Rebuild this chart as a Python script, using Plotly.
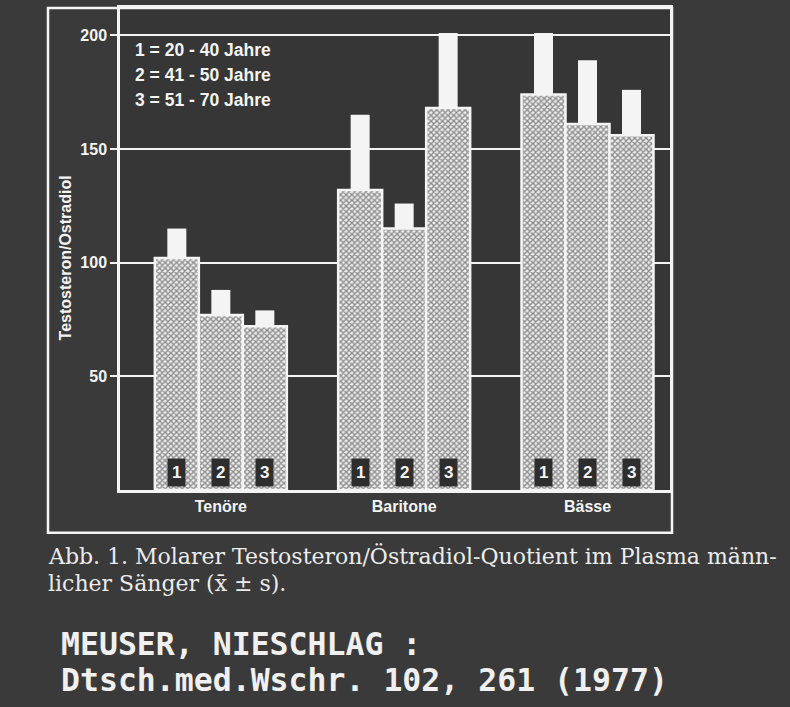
import plotly.graph_objects as go

# ---- data ----
categories = ["Tenöre", "Baritone", "Bässe"]
age_groups = ["1", "2", "3"]
age_legend = ["1 = 20 - 40 Jahre", "2 = 41 - 50 Jahre", "3 = 51 - 70 Jahre"]
means_g1 = [102, 132, 174]
means_g2 = [77, 115, 161]
means_g3 = [72, 168, 156]
sd_g1 = [13, 33, 27]
sd_g2 = [11, 11, 28]
sd_g3 = [7, 33, 20]
y_ticks = [50, 100, 150, 200]

means = [means_g1, means_g2, means_g3]
sds = [sd_g1, sd_g2, sd_g3]

# ---- styling / layout constants ----
W, H = 790, 707
ML, MR, MT, MB = 120, 120, 5, 217
BG = "#3a3a3a"
PLOT_BG = "#363636"
WHITE = "#f4f4f4"
BARGAP = 0.28
plot_w = W - ML - MR
plot_h = H - MT - MB
bar_px = plot_w / 3 * (1 - BARGAP) / 3


def px_x(px):
    return (px - ML) / plot_w


def px_y(py):
    return (H - MB - py) / plot_h


fig = go.Figure()
for gi in range(3):
    fig.add_trace(go.Bar(
        x=categories,
        y=means[gi],
        name=age_groups[gi],
        marker=dict(
            color="#a8a8a8",
            line=dict(color=WHITE, width=2.5),
            pattern=dict(shape="x", fgcolor="#2c2c2c", bgcolor="#f0f0f0",
                         size=4, solidity=0.6),
        ),
        error_y=dict(type="data", symmetric=False, array=sds[gi],
                     arrayminus=[0] * len(sds[gi]), color=WHITE,
                     thickness=19, width=0),
        showlegend=False,
        hoverinfo="skip",
    ))

annotations = []
# group numbers at bar bottoms
for gi in range(3):
    for cat in categories:
        annotations.append(dict(
            x=cat, y=0, xref="x", yref="y", text="<b>%s</b>" % age_groups[gi],
            showarrow=False, xshift=(gi - 1) * bar_px, yshift=3,
            yanchor="bottom", xanchor="center",
            font=dict(family="Liberation Sans", size=17, color=WHITE),
            bgcolor="#2e2e2e", borderpad=4,
        ))

# age legend text
for i, t in enumerate(age_legend):
    annotations.append(dict(
        x=px_x(133), y=px_y(47 + i * 25.5), xref="paper", yref="paper",
        text="<b>%s</b>" % t, showarrow=False, xanchor="left", yanchor="middle",
        font=dict(family="Liberation Sans", size=17.5, color=WHITE),
    ))

# y-axis title
annotations.append(dict(
    x=px_x(65), y=px_y(257), xref="paper", yref="paper",
    text="<b>Testosteron/Ostradiol</b>", textangle=-90, showarrow=False,
    xanchor="center", yanchor="middle",
    font=dict(family="Liberation Sans", size=16, color=WHITE),
))

# caption
cap1 = "Abb. 1. Molarer Testosteron/Östradiol-Quotient im Plasma männ-"
cap2 = "licher Sänger (x\u0304 ± s)."
annotations.append(dict(
    x=px_x(46), y=px_y(556), xref="paper", yref="paper", text=cap1,
    showarrow=False, xanchor="left", yanchor="middle",
    font=dict(family="DejaVu Serif", size=22, color="#ececec"),
))
annotations.append(dict(
    x=px_x(46), y=px_y(584), xref="paper", yref="paper", text=cap2,
    showarrow=False, xanchor="left", yanchor="middle",
    font=dict(family="DejaVu Serif", size=22, color="#ececec"),
))
ref1 = "MEUSER, NIESCHLAG :"
ref2 = "Dtsch.med.Wschr. 102, 261 (1977)"
annotations.append(dict(
    x=px_x(59), y=px_y(645), xref="paper", yref="paper", text="<b>%s</b>" % ref1,
    showarrow=False, xanchor="left", yanchor="middle",
    font=dict(family="DejaVu Sans Mono", size=31.5, color="#f0f0f0"),
))
annotations.append(dict(
    x=px_x(59), y=px_y(681), xref="paper", yref="paper", text="<b>%s</b>" % ref2,
    showarrow=False, xanchor="left", yanchor="middle",
    font=dict(family="DejaVu Sans Mono", size=31.5, color="#f0f0f0"),
))

shapes = [dict(
    type="rect", xref="paper", yref="paper",
    x0=px_x(48), x1=px_x(672), y0=px_y(533), y1=px_y(5),
    line=dict(color=WHITE, width=2.5), fillcolor="rgba(0,0,0,0)", layer="below",
)]

fig.update_layout(
    width=W, height=H,
    margin=dict(l=ML, r=MR, t=MT, b=MB, pad=0),
    paper_bgcolor=BG, plot_bgcolor=PLOT_BG,
    barmode="group", bargap=BARGAP, bargroupgap=0,
    annotations=annotations, shapes=shapes,
    xaxis=dict(
        type="category", range=[-0.55, 2.45], showgrid=False,
        showline=True, linecolor=WHITE, linewidth=2.5, mirror=True,
        ticks="", tickfont=dict(family="Liberation Sans", size=16,
                                color=WHITE, weight="bold"),
        ticklabelstandoff=0,
    ),
    yaxis=dict(
        range=[0, 212], tickvals=y_ticks, showgrid=True, gridcolor=WHITE,
        gridwidth=2, zeroline=False, showline=True, linecolor=WHITE,
        linewidth=2.5, mirror=True, ticks="outside", ticklen=7,
        tickcolor=WHITE, tickwidth=2,
        tickfont=dict(family="Liberation Sans", size=16, color=WHITE,
                      weight="bold"),
    ),
)

fig.write_html(
    "out.html",
    config={"displayModeBar": False},
    post_script="document.body.style.margin='0';document.body.style.background='#3a3a3a';",
)
